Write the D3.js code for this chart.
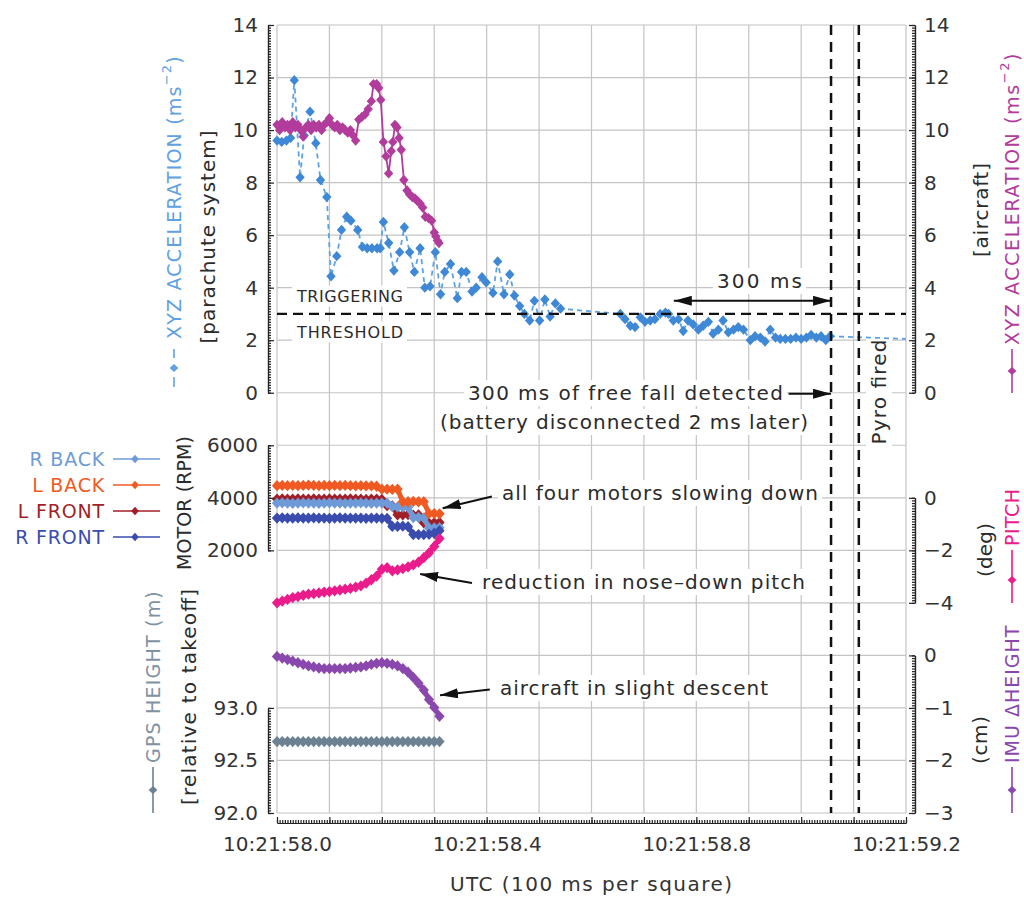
<!DOCTYPE html>
<html><head><meta charset="utf-8">
<script src="https://cdn.jsdelivr.net/npm/d3@7"></script>
<style>
html,body{margin:0;padding:0;background:#fff;}
svg{display:block;font-family:"DejaVu Sans",sans-serif;}
</style></head><body>
<svg id="c" width="1024" height="897"></svg>
<script>
// ---------------- DATA ----------------
const xTickMs = [0, 400, 800, 1200];
const xTickLabels = ["10:21:58.0", "10:21:58.4", "10:21:58.8", "10:21:59.2"];
const accTicks = [0, 2, 4, 6, 8, 10, 12, 14];
const motorTicks = [2000, 4000, 6000];
const pitchTicks = [-4, -2, 0];
const imuTicks = [-3, -2, -1, 0];
const gpsTicks = [92.0, 92.5, 93.0];

// parachute system XYZ acceleration [ms, m/s^2]
const paraAcc = [[0,9.6],[9,9.55],[18,9.6],[26,9.7],[33,11.9],[44,8.2],[52,9.8],[63,10.7],[74,9.5],[83,8.1],[95,7.45],[103,4.43],[114,5.2],[123,6.2],[133,6.7],[141,6.55],[154,6.2],[163,5.55],[172,5.5],[181,5.5],[191,5.5],[197,5.5],[203,6.5],[213,5.7],[223,4.65],[234,5.35],[243,6.3],[253,5.35],[262,4.6],[273,5.5],[282,4.0],[292,4.05],[302,5.35],[312,3.75],[320,4.6],[331,4.9],[344,3.6],[352,4.6],[361,4.6],[372,3.85],[380,4.0],[391,4.4],[399,4.2],[412,3.8],[421,5.0],[433,3.75],[444,4.5],[453,3.7],[463,3.3],[472,3.0],[482,2.75],[491,3.5],[501,2.75],[511,3.55],[521,2.9],[531,3.4],[541,3.2],[655,3.0],[664,2.8],[674,2.55],[683,2.5],[693,2.87],[702,2.7],[712,2.75],[721,2.8],[731,3.0],[741,3.05],[747,3.0],[756,2.75],[766,2.8],[775,2.35],[784,2.75],[794,2.6],[804,2.4],[813,2.55],[823,2.7],[832,2.25],[842,2.4],[851,2.75],[861,2.3],[871,2.4],[880,2.5],[890,2.4],[903,2.0],[912,2.15],[922,2.1],[931,1.95],[941,2.4],[951,2.1],[960,2.05],[970,2.05],[980,2.05],[990,2.1],[1000,2.05],[1010,2.1],[1019,2.2],[1029,2.1],[1038,2.15],[1047,2.0],[1055,2.15]];
const paraAccTail = [[1055,2.15],[1130,2.1],[1200,2.05]];

// aircraft XYZ acceleration [ms, m/s^2]
const aircraftAcc = [[0,10.2],[5,10.0],[10,10.3],[15,10.1],[20,10.2],[25,10.0],[30,10.3],[35,10.1],[40,10.2],[45,10.0],[50,9.75],[55,10.1],[60,10.2],[65,10.0],[70,10.2],[75,10.1],[80,10.2],[85,10.0],[90,10.2],[95,10.3],[100,10.45],[105,10.2],[110,10.1],[115,10.2],[120,10.0],[125,10.1],[130,10.0],[135,9.9],[140,10.0],[145,9.8],[150,9.6],[156,10.4],[162,10.5],[168,10.6],[174,10.8],[180,11.1],[184,11.75],[190,11.75],[194,11.6],[198,11.15],[203,9.55],[208,9.0],[213,8.35],[218,9.2],[221,9.55],[225,10.2],[229,10.1],[233,9.7],[237,9.25],[242,8.1],[248,7.7],[253,7.55],[258,7.45],[263,7.4],[268,7.3],[273,7.2],[278,7.05],[283,6.7],[289,6.65],[295,6.55],[300,6.1],[303,5.95],[306,5.8],[309,5.7]];

// dense aircraft log (10 ms samples)
const sampleT = [0,10,20,30,40,50,60,70,80,90,100,110,120,130,140,150,160,170,180,190,200,210,220,230,240,250,260,270,280,290,300,310];
const motorRBack  = [3800,3810,3800,3790,3800,3810,3800,3800,3790,3800,3810,3800,3800,3790,3800,3800,3810,3800,3790,3800,3800,3800,3660,3650,3650,3640,3250,3250,3240,2850,2850,2860];
const motorLBack  = [4460,4470,4460,4470,4460,4470,4480,4470,4460,4470,4460,4470,4460,4470,4460,4450,4460,4450,4450,4440,4330,4330,4320,4330,3850,3850,3860,3850,3850,3400,3400,3390];
const motorLFront = [3950,3960,3950,3950,3960,3950,3950,3960,3950,3950,3960,3950,3950,3950,3960,3950,3950,3940,3950,3950,3940,3700,3690,3350,3350,3360,3340,3350,3050,3040,3050,3060];
const motorRFront = [3230,3240,3230,3230,3240,3230,3230,3240,3230,3230,3220,3230,3240,3230,3230,3230,3230,3220,3230,3230,3220,3220,2910,2910,2920,2900,2600,2600,2600,2610,2650,2750];
const pitchDeg    = [-4.0,-3.93,-3.87,-3.8,-3.76,-3.71,-3.67,-3.65,-3.62,-3.59,-3.57,-3.54,-3.51,-3.48,-3.45,-3.4,-3.35,-3.25,-3.12,-2.98,-2.72,-2.66,-2.78,-2.74,-2.7,-2.63,-2.55,-2.45,-2.28,-2.1,-1.85,-1.55];
const imuDeltaCm  = [-0.02,-0.05,-0.08,-0.11,-0.14,-0.17,-0.2,-0.22,-0.24,-0.25,-0.25,-0.25,-0.25,-0.25,-0.24,-0.23,-0.22,-0.2,-0.17,-0.15,-0.14,-0.15,-0.17,-0.2,-0.25,-0.32,-0.42,-0.53,-0.66,-0.84,-0.99,-1.16];
const gpsHeightM  = [92.68,92.68,92.68,92.68,92.68,92.68,92.68,92.68,92.68,92.68,92.68,92.68,92.68,92.68,92.68,92.68,92.68,92.68,92.68,92.68,92.68,92.68,92.68,92.68,92.68,92.68,92.68,92.68,92.68,92.68,92.68,92.68];

const thresholdValue = 3;
const freeFallDetectedMs = 1057;
const pyroFiredMs = 1110;
const windowMs = 300;

// ---------------- LAYOUT ----------------
const svg = d3.select("#c");
const L = 277, R = 906, T = 25, B = 813;
const cell = (B - T) / 15;
const x = d3.scaleLinear().domain([0, 1200]).range([L, R]);
const yAcc = d3.scaleLinear().domain([0, 14]).range([T + 7 * cell, T]);
const yMotor = d3.scaleLinear().domain([2000, 6000]).range([T + 10 * cell, T + 8 * cell]);
const yPitch = d3.scaleLinear().domain([-4, 0]).range([T + 11 * cell, T + 9 * cell]);
const yImu = d3.scaleLinear().domain([-3, 0]).range([B, T + 12 * cell]);
const yGps = d3.scaleLinear().domain([92, 93]).range([B, T + 13 * cell]);

const C = {
  para: "#3f88d6", paraLine: "#5fa2e2", air: "#b13c9c",
  rback: "#6f9ad8", lback: "#f05a22", lfront: "#a11f28", rfront: "#3a4cae",
  pitch: "#ea1b8b", imu: "#8a47ad", gps: "#6c8191", gpsTitle: "#7f93a3", ink: "#2b2b2b", grid: "#c4c4c4"
};

const diamond = {draw(ctx, size){ const w = Math.sqrt(size)/2, h = w*1.1;
  ctx.moveTo(0,-h); ctx.lineTo(w,0); ctx.lineTo(0,h); ctx.lineTo(-w,0); ctx.closePath(); }};
const sym = d3.symbol().type(diamond);

// grid
const gridG = svg.append("g").attr("stroke", C.grid).attr("stroke-width", 1.2);
gridG.selectAll("line.v").data(d3.range(0, 1201, 100)).join("line")
  .attr("x1", d => x(d)).attr("x2", d => x(d)).attr("y1", T).attr("y2", B);
gridG.selectAll("line.h").data(d3.range(0, 16)).join("line")
  .attr("x1", L).attr("x2", R).attr("y1", i => T + i * cell).attr("y2", i => T + i * cell);

// annotation text with white box
const annG = svg.append("g");
function note(txt, px, py, o = {}) {
  const g = annG.append("g").attr("transform", o.rotate ? `translate(${px},${py}) rotate(-90)` : `translate(${px},${py})`);
  const t = g.append("text").text(txt).attr("x", 0).attr("y", 0)
    .attr("dominant-baseline", "central")
    .attr("text-anchor", o.anchor || "start")
    .attr("font-size", o.size || 20).attr("fill", C.ink);
  if (o.len) t.attr("textLength", o.len).attr("lengthAdjust", "spacing");
  const bb = t.node().getBBox();
  g.insert("rect", "text").attr("x", bb.x - 4).attr("y", bb.y - 1)
    .attr("width", bb.width + 8).attr("height", bb.height + 2).attr("fill", "#fff");
  return g;
}
note("TRIGGERING", 297, 296, {size: 16, len: 106});
note("THRESHOLD", 297, 332, {size: 16, len: 106});
note("300 ms", 717, 281, {len: 85});
note("300 ms of free fall detected", 468, 393, {len: 315});
note("(battery disconnected 2 ms later)", 440, 422, {len: 368});
note("Pyro fired", 879, 392, {rotate: true, anchor: "middle", len: 105});
note("all four motors slowing down", 502, 493, {len: 316});
note("reduction in nose\u2013down pitch", 482, 582, {len: 323});
note("aircraft in slight descent", 500, 688, {len: 268});

// series helpers
function drawSeries(pts, ys, color, o = {}) {
  const g = svg.append("g");
  g.append("path").datum(pts)
    .attr("d", d3.line().x(d => x(d[0])).y(d => ys(d[1])))
    .attr("fill", "none").attr("stroke", o.lineColor || color)
    .attr("stroke-width", o.lw || 1.5).attr("stroke-linejoin", "round")
    .attr("stroke-dasharray", o.dash || null);
  if (o.tail) g.append("path").datum(o.tail)
    .attr("d", d3.line().x(d => x(d[0])).y(d => ys(d[1])))
    .attr("fill", "none").attr("stroke", o.lineColor || color)
    .attr("stroke-width", o.lw || 1.5).attr("stroke-dasharray", o.dash || null);
  g.selectAll("path.m").data(pts).join("path").attr("class", "m")
    .attr("transform", d => `translate(${x(d[0])},${ys(d[1])})`)
    .attr("d", sym.size(o.size || 78)()).attr("fill", color);
}
const zipT = vals => sampleT.map((t, i) => [t, vals[i]]);

drawSeries(paraAcc, yAcc, C.para, {lineColor: C.paraLine, dash: "5,4", lw: 1.8, tail: paraAccTail, size: 88});
drawSeries(aircraftAcc, yAcc, C.air, {lw: 1.8, size: 88});
const dense = {size: 105, lw: 5};
drawSeries(zipT(motorLFront), yMotor, C.lfront, dense);
drawSeries(zipT(motorRBack), yMotor, C.rback, dense);
drawSeries(zipT(motorLBack), yMotor, C.lback, dense);
drawSeries(zipT(motorRFront), yMotor, C.rfront, dense);
drawSeries(zipT(pitchDeg), yPitch, C.pitch, dense);
drawSeries(zipT(imuDeltaCm), yImu, C.imu, dense);
drawSeries(zipT(gpsHeightM), yGps, C.gps, dense);

// dashed reference lines
const refG = svg.append("g").attr("stroke", "#111").attr("fill", "none");
refG.append("line").attr("x1", L).attr("x2", R).attr("y1", yAcc(thresholdValue)).attr("y2", yAcc(thresholdValue))
  .attr("stroke-width", 2.2).attr("stroke-dasharray", "10,6");
[freeFallDetectedMs, pyroFiredMs].forEach(t => refG.append("line")
  .attr("x1", x(t)).attr("x2", x(t)).attr("y1", T).attr("y2", B)
  .attr("stroke-width", 2.5).attr("stroke-dasharray", "10,7"));

// arrows
const defs = svg.append("defs");
defs.append("marker").attr("id", "ah").attr("viewBox", "0 0 18 10").attr("refX", 18).attr("refY", 5)
  .attr("markerWidth", 18).attr("markerHeight", 10).attr("markerUnits", "userSpaceOnUse")
  .attr("orient", "auto-start-reverse")
  .append("path").attr("d", "M0,0 L18,5 L0,10 Z").attr("fill", "#111");
function arrow(x1, y1, x2, y2, both) {
  const l = svg.append("line").attr("x1", x1).attr("y1", y1).attr("x2", x2).attr("y2", y2)
    .attr("stroke", "#111").attr("stroke-width", 2).attr("marker-end", "url(#ah)");
  if (both) l.attr("marker-start", "url(#ah)");
}
arrow(x(freeFallDetectedMs - windowMs), yAcc(3.5), x(freeFallDetectedMs), yAcc(3.5), true);
arrow(x(976), yAcc(0) + 1, x(freeFallDetectedMs), yAcc(0) + 1);
arrow(x(410), yMotor(4050), x(316), yMotor(3600));
arrow(x(372), yPitch(-3.24), x(273), yPitch(-2.9));
arrow(x(406), yImu(-0.65), x(311), yImu(-0.76));

// axes
const fmtInt = d3.format("d");
function styleAxis(g) {
  g.selectAll("line,path").attr("stroke", "#222").attr("stroke-width", 1.2);
  g.selectAll("text").attr("font-size", 20).attr("fill", "#333").attr("font-family", "DejaVu Sans");
}
function leftAxis(scale, major, minor, fmt) {
  const g1 = svg.append("g").attr("transform", "translate(268,0)");
  g1.call(d3.axisLeft(scale).tickValues(minor).tickSize(-3).tickSizeOuter(0).tickFormat(""));
  const g2 = svg.append("g").attr("transform", "translate(268,0)");
  g2.call(d3.axisLeft(scale).tickValues(major).tickSize(-6).tickSizeOuter(0).tickPadding(10).tickFormat(fmt));
  styleAxis(g1); styleAxis(g2);
}
function rightAxis(scale, major, minor, fmt) {
  const g1 = svg.append("g").attr("transform", "translate(915,0)");
  g1.call(d3.axisRight(scale).tickValues(minor).tickSize(-3).tickSizeOuter(0).tickFormat(""));
  const g2 = svg.append("g").attr("transform", "translate(915,0)");
  g2.call(d3.axisRight(scale).tickValues(major).tickSize(-6).tickSizeOuter(0).tickPadding(9).tickFormat(fmt));
  styleAxis(g1); styleAxis(g2);
}
const steps = (a, b, s) => d3.range(0, Math.round((b - a) / s) + 1).map(i => +(a + i * s).toFixed(4));
leftAxis(yAcc, accTicks, steps(0, 14, 0.1), fmtInt);
leftAxis(yMotor, motorTicks, steps(2000, 6000, 100), fmtInt);
leftAxis(yGps, gpsTicks, steps(92, 93, 0.025), d3.format(".1f"));
rightAxis(yAcc, accTicks, steps(0, 14, 0.1), fmtInt);
rightAxis(yPitch, pitchTicks, steps(-4, 0, 0.1), fmtInt);
rightAxis(yImu, imuTicks, steps(-3, 0, 0.05), fmtInt);

const xg1 = svg.append("g").attr("transform", "translate(0,823)");
xg1.call(d3.axisBottom(x).tickValues(steps(0, 1200, 5)).tickSize(-3).tickSizeOuter(0).tickFormat(""));
const xg2 = svg.append("g").attr("transform", "translate(0,823)");
xg2.call(d3.axisBottom(x).tickValues(steps(0, 1200, 100)).tickSize(-6).tickSizeOuter(0).tickPadding(14)
  .tickFormat(d => { const i = xTickMs.indexOf(d); return i >= 0 ? xTickLabels[i] : ""; }));
styleAxis(xg1); styleAxis(xg2);

svg.append("text").text("UTC (100 ms per square)").attr("x", 591).attr("y", 884)
  .attr("text-anchor", "middle").attr("dominant-baseline", "central").attr("font-size", 20)
  .attr("fill", "#333").attr("textLength", 282).attr("lengthAdjust", "spacing");

// axis titles with legend keys (rotated)
function keyTitle(px, py, color, textColor, lineLen, dPos, parts, o = {}) {
  const g = svg.append("g").attr("transform", `translate(${px},${py}) rotate(-90)`);
  if (o.dashed) {
    g.append("line").attr("x1", 0).attr("x2", 10).attr("y1", 0).attr("y2", 0).attr("stroke", color).attr("stroke-width", 1.6);
    g.append("line").attr("x1", 29).attr("x2", 38).attr("y1", 0).attr("y2", 0).attr("stroke", color).attr("stroke-width", 1.6);
  } else {
    g.append("line").attr("x1", 0).attr("x2", lineLen).attr("y1", 0).attr("y2", 0).attr("stroke", color).attr("stroke-width", 1.6);
  }
  g.append("path").attr("transform", `translate(${dPos},0)`).attr("d", sym.size(64)()).attr("fill", color);
  const t = g.append("text").attr("x", lineLen + 4).attr("y", 0).attr("dominant-baseline", "central")
    .attr("font-size", 19).attr("fill", textColor).attr("letter-spacing", o.ls || 1);
  parts.forEach(p => { const s = t.append("tspan").text(p.t);
    if (p.sup) s.attr("font-size", 13).attr("baseline-shift", "super"); });
}
keyTitle(174, 387, C.paraLine, C.paraLine, 44, 19, [{t: "XYZ ACCELERATION (ms"}, {t: "\u22122", sup: true}, {t: ")"}], {dashed: true, ls: 1.2});
keyTitle(1012, 393, C.air, C.air, 44, 22, [{t: "XYZ ACCELERATION (ms"}, {t: "\u22122", sup: true}, {t: ")"}], {ls: 1.6});
keyTitle(153, 813, C.gps, C.gpsTitle, 46, 23, [{t: "GPS HEIGHT (m)"}], {ls: 1.2});
keyTitle(1012, 813, C.imu, C.imu, 46, 23, [{t: "IMU \u0394HEIGHT"}], {ls: 1});
keyTitle(1012, 603, C.pitch, C.pitch, 53, 23, [{t: "PITCH"}], {ls: 0.5});

function rotLabel(txt, px, py, len, size) {
  svg.append("text").text(txt).attr("transform", `translate(${px},${py}) rotate(-90)`)
    .attr("text-anchor", "middle").attr("dominant-baseline", "central")
    .attr("font-size", size || 20).attr("fill", C.ink)
    .attr("textLength", len).attr("lengthAdjust", "spacing");
}
rotLabel("[parachute system]", 208, 237, 213);
rotLabel("[aircraft]", 981, 210, 94);
rotLabel("MOTOR (RPM)", 184, 503, 134, 19);
rotLabel("[relative to takeoff]", 189, 697, 216);
rotLabel("(deg)", 985, 550, 54);
rotLabel("(cm)", 980, 740, 48);

// motor legend
const motorLegend = [["R BACK", C.rback], ["L BACK", C.lback], ["L FRONT", C.lfront], ["R FRONT", C.rfront]];
const legY = [459, 485, 511, 537];
motorLegend.forEach(([name, col], i) => {
  const g = svg.append("g").attr("transform", `translate(0,${legY[i]})`);
  g.append("line").attr("x1", 113).attr("x2", 160).attr("y1", 0).attr("y2", 0).attr("stroke", col).attr("stroke-width", 1.6);
  g.append("path").attr("transform", "translate(135,0)").attr("d", sym.size(60)()).attr("fill", col);
  g.append("text").text(name).attr("x", 105).attr("y", 0).attr("text-anchor", "end")
    .attr("dominant-baseline", "central").attr("font-size", 19).attr("fill", col).attr("letter-spacing", 0.8);
});
</script>
</body></html>
